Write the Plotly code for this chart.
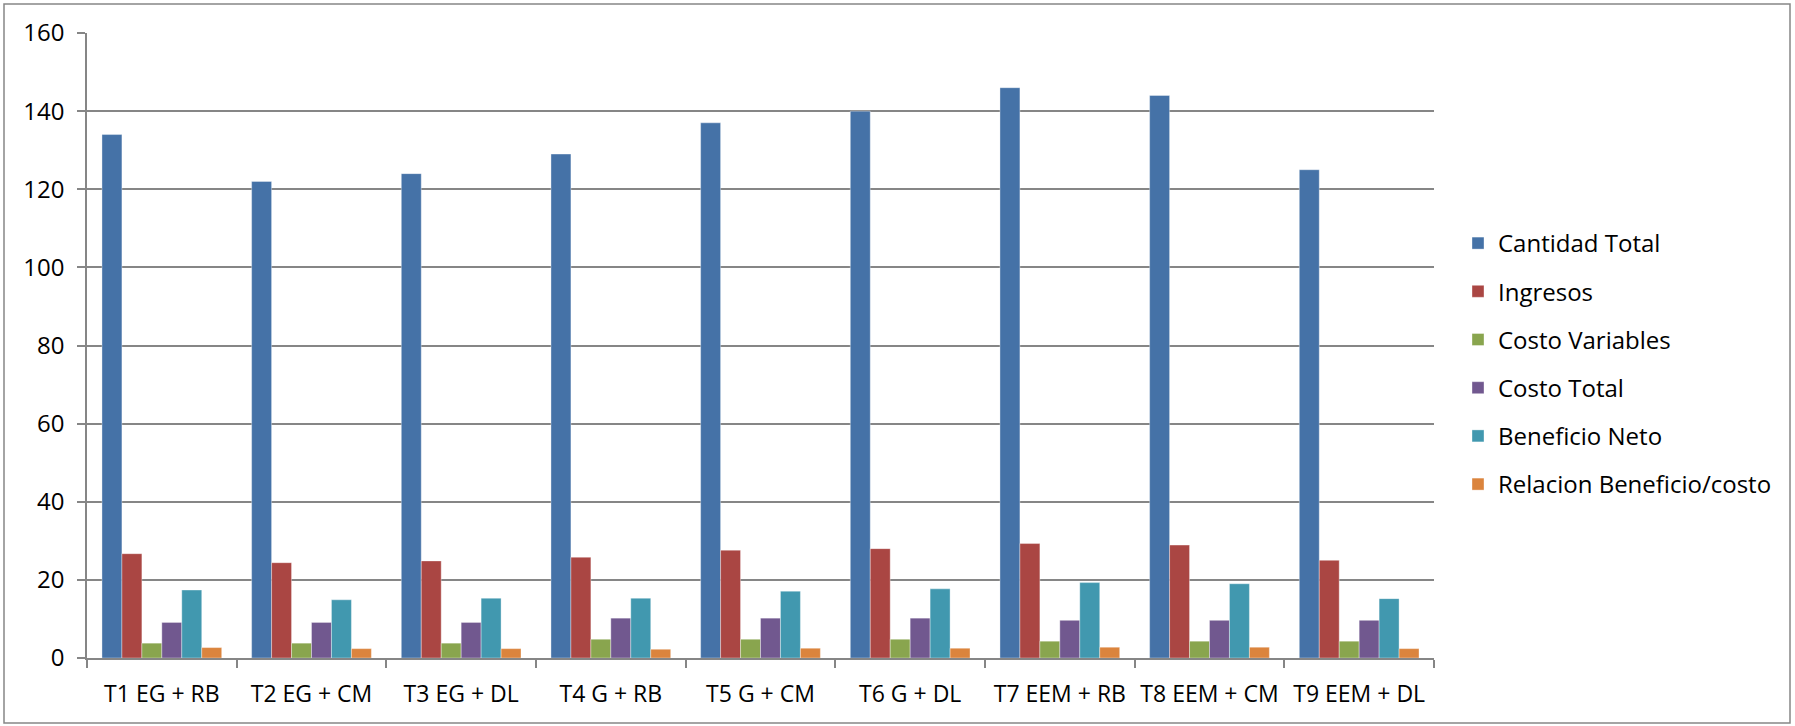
import plotly.graph_objects as go

categories = ["T1 EG + RB", "T2 EG + CM", "T3 EG + DL", "T4 G + RB", "T5 G + CM",
              "T6 G + DL", "T7 EEM + RB", "T8 EEM + CM", "T9 EEM + DL"]
cantidad_total = [134, 122, 124, 129, 137, 140, 146, 144, 125]
ingresos = [26.7, 24.4, 24.85, 25.8, 27.6, 28.0, 29.3, 28.9, 25.0]
costo_variables = [3.8, 3.8, 3.8, 4.8, 4.8, 4.8, 4.3, 4.3, 4.3]
costo_total = [9.1, 9.1, 9.1, 10.2, 10.2, 10.2, 9.65, 9.65, 9.65]
beneficio_neto = [17.4, 14.9, 15.3, 15.3, 17.1, 17.7, 19.3, 19.0, 15.2]
relacion_bc = [2.67, 2.4, 2.4, 2.24, 2.5, 2.5, 2.76, 2.76, 2.4]
y_ticks = [0, 20, 40, 60, 80, 100, 120, 140, 160]

series = [
    ("Cantidad Total", cantidad_total, "#4572A7"),
    ("Ingresos", ingresos, "#AA4643"),
    ("Costo Variables", costo_variables, "#89A54E"),
    ("Costo Total", costo_total, "#71588F"),
    ("Beneficio Neto", beneficio_neto, "#4198AF"),
    ("Relacion Beneficio/costo", relacion_bc, "#DB843D"),
]

FONT = "Open Sans"
fig = go.Figure()
for i, (name, vals, color) in enumerate(series):
    fig.add_trace(go.Bar(
        x=categories, y=vals, name=name, legendgroup=f"g{i}",
        marker=dict(color=color, line=dict(width=0.6, color="rgba(255,255,255,0.6)")),
    ))

W, H = 1795, 726
L, R, T, B = 87, 1434, 33, 658
pw, ph = R - L, B - T

def px_x(v):
    return (v - L) / pw

def px_y(v):
    return (B - v) / ph

fig.update_layout(
    width=W, height=H,
    margin=dict(l=L, r=W - R, t=T, b=H - B),
    paper_bgcolor="white", plot_bgcolor="white",
    barmode="group", bargap=0.2, bargroupgap=0,
    font=dict(family=FONT, size=24, color="#000000"),
    legend=dict(
        xref="container", yref="container",
        x=1458 / W, y=1 - 364 / H, xanchor="left", yanchor="middle",
        traceorder="grouped", tracegroupgap=14,
        font=dict(family=FONT, size=24, color="#000000"),
        bgcolor="rgba(0,0,0,0)",
    ),
    xaxis=dict(
        showgrid=False, showline=True, linecolor="#868686", linewidth=1.5,
        ticks="outside", tickson="boundaries", ticklen=8, tickcolor="#868686", tickwidth=1.5,
        ticklabelstandoff=15,
        tickfont=dict(family=FONT, size=23, color="#000000"),
    ),
    yaxis=dict(
        range=[0, 160], tickvals=y_ticks, showgrid=True, gridcolor="#868686", gridwidth=1.5,
        showline=True, linecolor="#868686", linewidth=1.5,
        ticks="outside", ticklen=8, tickcolor="#868686", tickwidth=1.5,
        ticklabelstandoff=8, zeroline=False,
        tickfont=dict(family=FONT, size=24, color="#000000"),
    ),
    shapes=[dict(
        type="rect", xref="paper", yref="paper",
        x0=px_x(4), x1=px_x(1790), y0=px_y(723), y1=px_y(4),
        line=dict(color="#868686", width=1.5), fillcolor="rgba(0,0,0,0)", layer="below",
    )],
)

fig.write_html(
    "out.html",
    config={"displayModeBar": False},
    post_script="document.body.style.margin='0';document.body.style.overflow='hidden';",
)
